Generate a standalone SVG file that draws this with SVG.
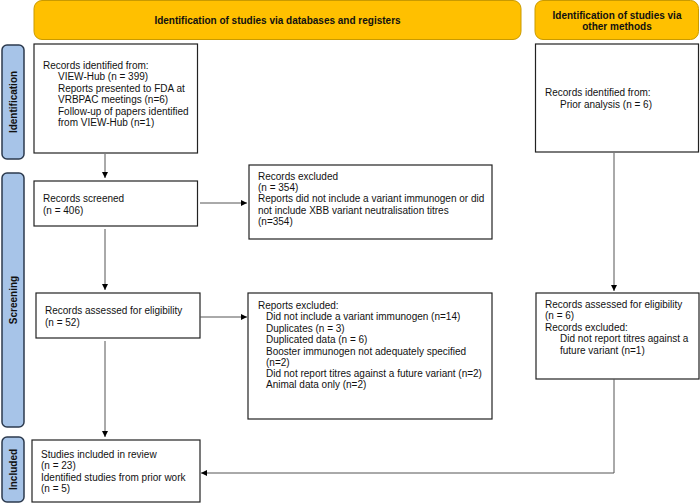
<svg xmlns="http://www.w3.org/2000/svg" width="700" height="504" viewBox="0 0 700 504">
<defs>
<marker id="ah" viewBox="0 0 10 10" refX="10" refY="5" markerWidth="6" markerHeight="6" markerUnits="userSpaceOnUse" orient="auto">
<path d="M0,0 L10,5 L0,10 z" fill="#000"/>
</marker>
<style>
.banner{fill:#FFC000;stroke:#C99A00;stroke-width:1}
.side{fill:#A7C4E8;stroke:#2C3A4E;stroke-width:1.5}
.box{fill:#fff;stroke:#222;stroke-width:1.2}
.t{font-family:"Liberation Sans",Arial,sans-serif;font-size:10px;fill:#111}
.bt{font-family:"Liberation Sans",Arial,sans-serif;font-size:10px;font-weight:bold;fill:#111;text-anchor:middle}
.st{font-family:"Liberation Sans",Arial,sans-serif;font-size:10px;font-weight:bold;fill:#111;text-anchor:middle}
.c{fill:none;stroke:#555;stroke-width:1}
</style>
</defs>
<rect width="700" height="504" fill="#fff"/>

<g id="banner-db">
<rect class="banner" x="34" y="0.5" width="487" height="39" rx="8"/>
<text class="bt" x="277.5" y="23.5">Identification of studies via databases and registers</text>
</g>
<g id="banner-other">
<rect class="banner" x="535" y="0.5" width="163.5" height="39" rx="8"/>
<text class="bt" x="617" y="18.5">Identification of studies via</text>
<text class="bt" x="617" y="29.5">other methods</text>
</g>

<g id="side-identification">
<rect class="side" x="2" y="45" width="22" height="114" rx="5"/>
<text class="st" transform="translate(16.5,102) rotate(-90)">Identification</text>
</g>
<g id="side-screening">
<rect class="side" x="2" y="173" width="22" height="254" rx="5"/>
<text class="st" transform="translate(16.5,300) rotate(-90)">Screening</text>
</g>
<g id="side-included">
<rect class="side" x="2" y="437" width="22" height="65" rx="5"/>
<text class="st" transform="translate(16.5,469.5) rotate(-90)">Included</text>
</g>

<g id="records-identified">
<rect class="box" x="34" y="44" width="163.5" height="109"/>
<text class="t" x="43" y="68.5">Records identified from:</text>
<text class="t" x="58" y="80">VIEW-Hub (n = 399)</text>
<text class="t" x="58" y="91.5">Reports presented to FDA at</text>
<text class="t" x="58" y="103">VRBPAC meetings (n=6)</text>
<text class="t" x="58" y="114.5">Follow-up of papers identified</text>
<text class="t" x="58" y="126">from VIEW-Hub (n=1)</text>
</g>

<g id="records-other">
<rect class="box" x="535.5" y="44" width="163" height="108"/>
<text class="t" x="545" y="95.5">Records identified from:</text>
<text class="t" x="560" y="107.5">Prior analysis (n = 6)</text>
</g>

<g id="records-screened">
<rect class="box" x="34" y="181" width="163.5" height="45"/>
<text class="t" x="43" y="201.5">Records screened</text>
<text class="t" x="43" y="214">(n = 406)</text>
</g>

<g id="records-excluded">
<rect class="box" x="249" y="165" width="243" height="74"/>
<text class="t" x="258" y="179.5">Records excluded</text>
<text class="t" x="258" y="191">(n = 354)</text>
<text class="t" x="258" y="202">Reports did not include a variant immunogen or did</text>
<text class="t" x="258" y="213.5">not include XBB variant neutralisation titres</text>
<text class="t" x="258" y="225">(n=354)</text>
</g>

<g id="records-assessed">
<rect class="box" x="36" y="293" width="164" height="45"/>
<text class="t" x="45" y="313.5">Records assessed for eligibility</text>
<text class="t" x="45" y="325.5">(n = 52)</text>
</g>

<g id="reports-excluded">
<rect class="box" x="248" y="293" width="244" height="126"/>
<text class="t" x="258" y="308.5">Reports excluded:</text>
<text class="t" x="266" y="320">Did not include a variant immunogen (n=14)</text>
<text class="t" x="266" y="331.5">Duplicates (n = 3)</text>
<text class="t" x="266" y="343">Duplicated data (n = 6)</text>
<text class="t" x="266" y="354.5">Booster immunogen not adequately specified</text>
<text class="t" x="266" y="366">(n=2)</text>
<text class="t" x="266" y="377">Did not report titres against a future variant (n=2)</text>
<text class="t" x="266" y="388">Animal data only (n=2)</text>
</g>

<g id="other-assessed">
<rect class="box" x="536" y="293" width="163" height="86"/>
<text class="t" x="545" y="307.5">Records assessed for eligibility</text>
<text class="t" x="545" y="319">(n = 6)</text>
<text class="t" x="545" y="330.5">Records excluded:</text>
<text class="t" x="560" y="342">Did not report titres against a</text>
<text class="t" x="560" y="353.5">future variant (n=1)</text>
</g>

<g id="studies-included">
<rect class="box" x="32" y="440" width="168" height="62"/>
<text class="t" x="41" y="457.5">Studies included in review</text>
<text class="t" x="41" y="469">(n = 23)</text>
<text class="t" x="41" y="480.5">Identified studies from prior work</text>
<text class="t" x="41" y="492">(n = 5)</text>
</g>

<g id="connectors">
<line class="c" x1="105" y1="154" x2="105" y2="178" marker-end="url(#ah)"/>
<line class="c" x1="200" y1="203" x2="247" y2="203" marker-end="url(#ah)"/>
<line class="c" x1="105" y1="229" x2="105" y2="290" marker-end="url(#ah)"/>
<line class="c" x1="200" y1="317" x2="247" y2="317" marker-end="url(#ah)"/>
<line class="c" x1="105" y1="341" x2="105" y2="437" marker-end="url(#ah)"/>
<line class="c" x1="614" y1="153" x2="614" y2="291" marker-end="url(#ah)"/>
<polyline class="c" points="614,379 614,473 201,473" marker-end="url(#ah)"/>
</g>
</svg>
